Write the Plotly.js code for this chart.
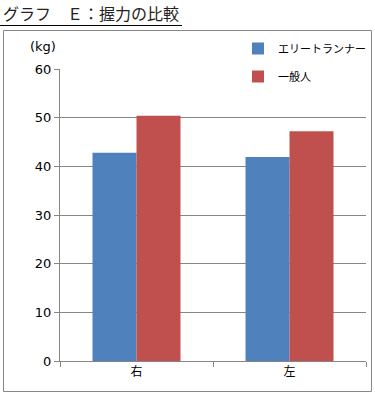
<!DOCTYPE html>
<html>
<head>
<meta charset="utf-8">
<script src="https://cdn.plot.ly/plotly-3.0.1.min.js"></script>
<style>
html,body{margin:0;padding:0;background:#fff;}
#chart{width:375px;height:396px;}
</style>
</head>
<body>
<div id="chart"></div>
<script>
const categories = ['右', '左'];
const eliteValues = [42.8, 41.9];
const generalValues = [50.4, 47.2];
const seriesNames = ['エリートランナー', '一般人'];
const yTicks = [0, 10, 20, 30, 40, 50, 60];
const chartTitle = 'グラフ　Ｅ：握力の比較';
const unitLabel = '(kg)';

const W = 375, H = 396;
const M = {l: 60, r: 9, t: 69, b: 35, autoexpand: false};
const pw = W - M.l - M.r, ph = H - M.t - M.b;
const px = x => (x - M.l) / pw;
const py = y => (H - M.b - y) / ph;

const FONT = 'DejaVu Sans, Noto Sans CJK JP, sans-serif';

const traces = [
  {type: 'bar', x: categories, y: eliteValues, name: seriesNames[0],
   marker: {color: '#4F81BD'}, legendgroup: 'a'},
  {type: 'bar', x: categories, y: generalValues, name: seriesNames[1],
   marker: {color: '#C0504D'}, legendgroup: 'b'}
];

const layout = {
  width: W, height: H,
  margin: M,
  paper_bgcolor: '#fff', plot_bgcolor: '#fff',
  font: {family: FONT, size: 13, color: '#000'},
  showlegend: true,
  barmode: 'group',
  bargap: 0.425,
  bargroupgap: 0,
  title: {
    text: chartTitle,
    font: {family: 'Noto Sans CJK JP, sans-serif', size: 16, color: '#222'},
    x: 3 / W, xref: 'container', xanchor: 'left',
    y: 1 - 14 / H, yref: 'container', yanchor: 'middle',
    pad: {t: 0, b: 0, l: 0, r: 0}
  },
  xaxis: {
    type: 'category',
    showgrid: false,
    showline: true, linecolor: '#868686', linewidth: 1,
    ticks: 'outside', tickson: 'boundaries', ticklen: 5, tickcolor: '#868686',
    tickfont: {family: 'Noto Sans CJK JP, sans-serif', size: 12, color: '#000'},
    fixedrange: true
  },
  yaxis: {
    range: [0, 60],
    tickvals: yTicks,
    showgrid: true, gridcolor: '#868686', gridwidth: 1,
    showline: true, linecolor: '#868686', linewidth: 1,
    ticks: 'outside', ticklen: 5, tickcolor: '#868686',
    tickfont: {family: FONT, size: 13, color: '#000'},
    zeroline: false,
    fixedrange: true
  },
  legend: {
    x: px(238), y: py(34), xanchor: 'left', yanchor: 'top',
    bgcolor: 'rgba(0,0,0,0)',
    font: {family: 'Noto Sans CJK JP, sans-serif', size: 11, color: '#000'},
    traceorder: 'grouped', tracegroupgap: 9,
    itemwidth: 30
  },
  annotations: [{
    text: unitLabel, xref: 'paper', yref: 'paper',
    x: px(43), y: py(47), xanchor: 'center', yanchor: 'middle',
    showarrow: false, font: {family: FONT, size: 13, color: '#000'}
  }],
  shapes: [
    {type: 'rect', xref: 'paper', yref: 'paper',
     x0: px(3.5), x1: px(371.5), y0: py(30.5), y1: py(391.5),
     line: {color: '#868686', width: 1}, layer: 'below'},
    {type: 'rect', xref: 'paper', yref: 'paper',
     x0: px(259), x1: px(368), y0: py(38), y1: py(86),
     fillcolor: '#fff', line: {width: 0}, layer: 'above'},
    {type: 'line', xref: 'paper', yref: 'paper',
     x0: px(0), x1: px(182), y0: py(25.5), y1: py(25.5),
     line: {color: '#000', width: 1}}
  ]
};

Plotly.newPlot('chart', traces, layout, {displayModeBar: false, staticPlot: true});
</script>
</body>
</html>
